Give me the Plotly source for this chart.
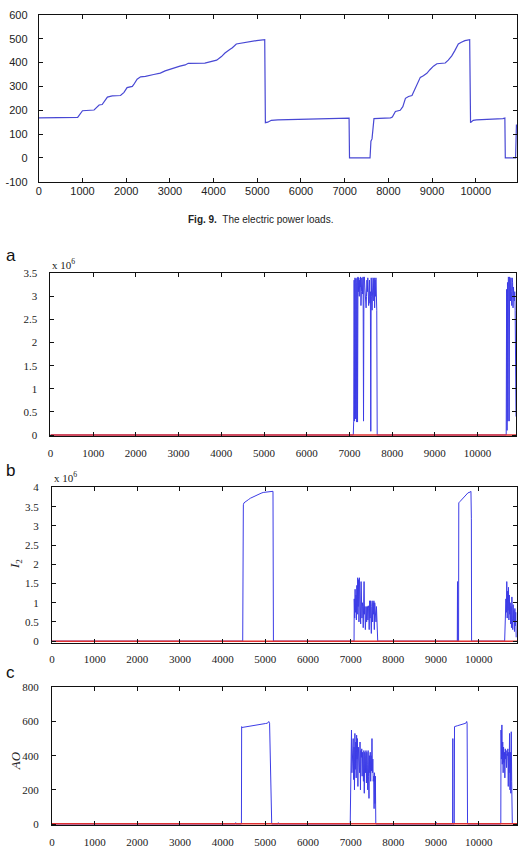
import plotly.graph_objects as go

# ---------------- data ----------------
# Fig. 9 electric power load
load_x = [0, 500, 890, 1000, 1265, 1380, 1450, 1570, 1680, 1870, 1950, 2020, 2140, 2170, 2250, 2330,
          2440, 2630, 2780, 2890, 3010, 3120, 3230, 3350, 3420, 3800, 3920, 4070, 4180, 4260, 4370,
          4430, 4520, 4640, 4790, 4980, 5170, 5185, 5240, 5320, 5470, 6000, 6760, 7100, 7110, 7580,
          7600, 7625, 7670, 8050, 8090, 8160, 8270, 8330, 8390, 8460, 8540, 8610, 8650, 8730, 8800,
          8880, 8950, 9030, 9110, 9300, 9370, 9450, 9520, 9600, 9670, 9750, 9860, 9880, 9940, 10015,
          10620, 10665, 10675, 10910, 10930]
load_y = [168, 169, 170, 198, 201, 222, 224, 255, 260, 262, 275, 295, 300, 307, 330, 340,
          342, 350, 356, 365, 373, 378, 385, 390, 397, 398, 402, 410, 425, 440, 455,
          462, 478, 482, 487, 492, 496, 148, 150, 158, 160, 162, 165, 167, 0, 0,
          70, 80, 165, 168, 172, 195, 200, 215, 250, 258, 262, 290, 300, 338, 345,
          355, 370, 385, 395, 398, 410, 428, 450, 478, 485, 492, 496, 148, 158, 160,
          165, 167, 0, 0, 140]

# (a) statistic, units of 1e6
a_x = [0, 7090, 7100, 7110, 7120, 7130, 7140, 7150, 7160, 7170, 7180, 7190, 7200, 7210, 7220, 7230,
       7240, 7250, 7260, 7270, 7280, 7290, 7300, 7310, 7320, 7330, 7340, 7350, 7360, 7370, 7380,
       7390, 7400, 7410, 7420, 7430, 7440, 7450, 7460, 7470, 7480, 7490, 7500, 7510, 7520, 7530,
       7540, 7550, 7560, 7570, 7580, 7590, 7600, 7610, 7620, 7630, 7640, 7650, 10670, 10680,
       10690, 10700, 10710, 10720, 10730, 10740, 10750, 10760, 10770, 10780, 10790, 10800, 10810,
       10820, 10830, 10840, 10850, 10860, 10870, 10880, 10890, 10900]
a_y = [0, 0, 0.3, 3.35, 0.3, 3.4, 0.35, 3.38, 3.3, 0.28, 3.4, 0.28, 3.42, 3.1, 3.4, 3.0,
       3.35, 3.2, 3.42, 2.8, 3.1, 3.4, 3.3, 3.05, 3.42, 0.3, 3.4, 3.42, 3.2, 2.9, 3.1,
       2.75, 3.0, 3.35, 3.1, 3.4, 2.9, 2.8, 3.0, 3.35, 2.85, 3.1, 0.08, 3.4, 3.0, 2.7,
       3.1, 3.4, 3.38, 2.9, 3.4, 2.75, 3.35, 3.0, 3.4, 2.9, 2.7, 0, 0, 3.15,
       0.1, 3.3, 0.3, 3.42, 3.4, 0.3, 3.42, 3.3, 2.9, 3.4, 3.1, 2.8, 3.4,
       3.3, 2.75, 3.2, 3.0, 2.9, 3.1, 2.7, 0.5, 0.4]

# (b) I2, units of 1e6
b_x = [0, 2000, 2005, 2010, 4470, 4475, 4480, 4485, 4500, 4550, 4600, 4650, 4700, 4750, 4800, 4850,
       4900, 4950, 5000, 5100, 5180, 5190, 7080, 7085, 7095, 7105, 7115, 7125, 7135, 7145, 7155,
       7165, 7175, 7185, 7195, 7205, 7215, 7225, 7235, 7245, 7255, 7265, 7275, 7285, 7295, 7305,
       7315, 7325, 7335, 7345, 7355, 7365, 7375, 7385, 7395, 7405, 7415, 7425, 7435, 7445, 7455,
       7465, 7475, 7485, 7495, 7505, 7515, 7525, 7535, 7545, 7555, 7565, 7575, 7585, 7595, 7605,
       7615, 7625, 7635, 9500, 9505, 9510, 9530, 9535, 9560, 9600, 9650, 9700, 9750, 9800, 9820,
       9830, 9835, 10610, 10620, 10630, 10640, 10650, 10660, 10670, 10680, 10690, 10700, 10710,
       10720, 10730, 10740, 10750, 10760, 10770, 10780, 10790, 10800, 10810, 10820, 10830, 10840,
       10850, 10860, 10870, 10880]
b_y = [0, 0, 0.03, 0, 0, 3.5, 2.6, 3.55, 3.6, 3.65, 3.68, 3.72, 3.75, 3.78, 3.8, 3.82,
       3.85, 3.87, 3.88, 3.9, 3.9, 0, 0, 1.1, 0.6, 1.35, 0.75, 1.2, 0.55, 1.45, 0.7,
       1.65, 0.9, 1.6, 0.5, 1.65, 0.8, 1.3, 0.45, 1.55, 0.85, 0.6, 1.0, 0.9, 0.35, 0.9,
       1.55, 0.7, 0.9, 0.3, 0.85, 0.9, 0.5, 0.88, 0.9, 0.55, 0.92, 0.85, 0.3, 1.05, 0.6,
       1.05, 0.8, 0.2, 0.9, 1.05, 0.5, 1.0, 0.7, 1.05, 0.3, 1.0, 0.8, 0.95, 0.5, 0.9,
       0.25, 0.1, 0, 0, 1.55, 0, 0, 3.6, 3.63, 3.68, 3.75, 3.8, 3.86, 3.88, 3.9,
       3.2, 0, 0, 0.7, 0.5, 1.1, 0.75, 1.55, 0.6, 1.3, 0.8, 1.4, 0.55,
       1.2, 0.7, 1.0, 0.45, 0.9, 0.35, 1.15, 0.6, 0.3, 0.95, 0.5, 0.8, 0.25,
       0.85, 0.4, 0.75, 0.1]

# (c) AO
c_x = [0, 2000, 2005, 2010, 4300, 4305, 4310, 4440, 4445, 4450, 4455, 4500, 4600, 4700, 4800, 4900,
       5000, 5050, 5080, 5100, 5150, 5300, 5305, 5310, 6990, 7000, 7010, 7020, 7030, 7040, 7050,
       7060, 7070, 7080, 7090, 7100, 7110, 7120, 7130, 7140, 7150, 7160, 7170, 7180, 7190, 7200,
       7210, 7220, 7230, 7240, 7250, 7260, 7270, 7280, 7290, 7300, 7310, 7320, 7330, 7340, 7350,
       7360, 7370, 7380, 7390, 7400, 7410, 7420, 7430, 7440, 7450, 7460, 7470, 7480, 7490, 7500,
       7510, 7520, 7530, 7540, 7550, 7560, 7570, 7580, 7590, 9000, 9005, 9010, 9390, 9395, 9400,
       9430, 9435, 9500, 9600, 9700, 9720, 9730, 9740, 10520, 10525, 10535, 10545, 10555, 10565,
       10575, 10585, 10595, 10605, 10615, 10625, 10635, 10645, 10655, 10665, 10675, 10685, 10695,
       10705, 10715, 10725, 10735, 10745, 10755, 10765, 10775, 10785, 10790]
c_y = [0, 0, 10, 0, 0, 8, 0, 0, 570, 430, 565, 567, 572, 575, 580, 585,
       588, 590, 600, 590, 0, 0, 8, 0, 0, 420, 350, 550, 300, 420, 380,
       500, 260, 450, 200, 530, 320, 480, 270, 520, 380, 500, 220, 450, 350, 420,
       300, 480, 200, 430, 390, 440, 280, 420, 360, 250, 430, 180, 420, 400, 300,
       430, 240, 420, 350, 200, 430, 280, 150, 400, 300, 420, 250, 400, 310, 500,
       300, 380, 250, 280, 90, 300, 120, 280, 0, 0, 10, 0, 0, 500, 0,
       0, 570, 575, 582, 590, 600, 590, 0, 0, 550, 380, 580, 350, 480,
       300, 450, 360, 420, 270, 440, 380, 430, 330, 410, 400, 440, 220,
       420, 300, 530, 200, 420, 180, 540, 250, 10, 0]

limit_x = [0, 10950]
limit_a = [0, 0]
limit_b = [0, 0]
limit_c = [2, 2]

x_ticks = [0, 1000, 2000, 3000, 4000, 5000, 6000, 7000, 8000, 9000, 10000]
x_ticktext = ["0", "1000", "2000", "3000", "4000", "5000", "6000", "7000", "8000", "9000", "10000"]
load_yticks = [-100, 0, 100, 200, 300, 400, 500, 600]
load_yticktext = ["-100", "0", "100", "200", "300", "400", "500", "600"]
a_yticks = [0, 0.5, 1, 1.5, 2, 2.5, 3, 3.5]
a_yticktext = ["0", "0.5", "1", "1.5", "2", "2.5", "3", "3.5"]
b_yticks = [0, 0.5, 1, 1.5, 2, 2.5, 3, 3.5, 4]
b_yticktext = ["0", "0.5", "1", "1.5", "2", "2.5", "3", "3.5", "4"]
c_yticks = [0, 200, 400, 600, 800]
c_yticktext = ["0", "200", "400", "600", "800"]

# ---------------- figure ----------------
W, H = 520, 858
BLUE = "#3c3ce6"
BLUE_TOP = "#4848d4"
RED = "#e03030"
SANS = "Liberation Sans, Arial, sans-serif"
SERIF = "Liberation Serif, Times New Roman, serif"

def px_x(p):
    return p / W

def px_y(p):
    return 1 - p / H

fig = go.Figure()
fig.add_trace(go.Scatter(x=load_x, y=load_y, mode="lines", line=dict(color=BLUE_TOP, width=1.2),
                         xaxis="x", yaxis="y", showlegend=False))
fig.add_trace(go.Scatter(x=a_x, y=a_y, mode="lines", line=dict(color=BLUE, width=1),
                         xaxis="x2", yaxis="y2", showlegend=False))
fig.add_trace(go.Scatter(x=limit_x, y=limit_a, mode="lines", line=dict(color=RED, width=1.5),
                         xaxis="x2", yaxis="y2", showlegend=False))
fig.add_trace(go.Scatter(x=b_x, y=b_y, mode="lines", line=dict(color=BLUE, width=1),
                         xaxis="x3", yaxis="y3", showlegend=False))
fig.add_trace(go.Scatter(x=limit_x, y=limit_b, mode="lines", line=dict(color=RED, width=1.5),
                         xaxis="x3", yaxis="y3", showlegend=False))
fig.add_trace(go.Scatter(x=c_x, y=c_y, mode="lines", line=dict(color=BLUE, width=1),
                         xaxis="x4", yaxis="y4", showlegend=False))
fig.add_trace(go.Scatter(x=limit_x, y=limit_c, mode="lines", line=dict(color=RED, width=1.5),
                         xaxis="x4", yaxis="y4", showlegend=False))

def axis(domain, rng, tickvals, ticktext, font, anchor, standoff):
    return dict(domain=domain, range=rng, tickvals=tickvals, ticktext=ticktext,
                tickfont=dict(family=font, size=11, color="#222"), anchor=anchor,
                showline=True, linecolor="#111", linewidth=1, mirror="ticks",
                ticks="inside", ticklen=4, tickcolor="#111", tickwidth=1,
                showgrid=False, zeroline=False, ticklabelstandoff=standoff)

fig.update_layout(
    width=W, height=H, margin=dict(l=0, r=0, t=0, b=0),
    paper_bgcolor="white", plot_bgcolor="white",
    xaxis=axis([px_x(36), px_x(517.3)], [0, 10950], x_ticks, x_ticktext, SANS, "y", -1),
    yaxis=axis([px_y(178.3), px_y(9)], [-100, 600], load_yticks, load_yticktext, SANS, "x", 8),
    xaxis2=axis([px_x(47.7), px_x(516)], [0, 10900], x_ticks, x_ticktext, SERIF, "y2", 6),
    yaxis2=axis([px_y(436.5), px_y(271)], [-0.03, 3.5], a_yticks, a_yticktext, SERIF, "x2", 10),
    xaxis3=axis([px_x(49.3), px_x(517)], [0, 10900], x_ticks, x_ticktext, SERIF, "y3", 6),
    yaxis3=axis([px_y(645.7), px_y(488.3)], [-0.04, 4], b_yticks, b_yticktext, SERIF, "x3", 10),
    xaxis4=axis([px_x(49.3), px_x(517)], [0, 10900], x_ticks, x_ticktext, SERIF, "y4", 6),
    yaxis4=axis([px_y(831), px_y(691)], [-8, 800], c_yticks, c_yticktext, SERIF, "x4", 10),
)

ann = []
ann.append(dict(text="<b>Fig. 9.</b>  The electric power loads.", x=px_x(259), y=px_y(217),
                xref="paper", yref="paper", showarrow=False, xanchor="center", yanchor="middle",
                font=dict(family=SANS, size=10, color="#222")))
for lab, yy in [("a", 253), ("b", 471), ("c", 676)]:
    ann.append(dict(text=lab, x=px_x(1), y=px_y(yy), xref="paper", yref="paper", showarrow=False,
                    xanchor="left", yanchor="middle", font=dict(family=SANS, size=17, color="#111")))
for xx, yy in [(47.5, 262), (49, 478)]:
    ann.append(dict(text="x 10<sup>6</sup>", x=px_x(xx), y=px_y(yy), xref="paper", yref="paper",
                    showarrow=False, xanchor="left", yanchor="middle",
                    font=dict(family=SERIF, size=11, color="#222")))
ann.append(dict(text="<i>I</i><sub>2</sub>", x=px_x(12), y=px_y(566), xref="paper", yref="paper",
                showarrow=False, textangle=-90, xanchor="center", yanchor="middle",
                font=dict(family=SERIF, size=13, color="#222")))
ann.append(dict(text="<i>AO</i>", x=px_x(12), y=px_y(765), xref="paper", yref="paper",
                showarrow=False, textangle=-90, xanchor="center", yanchor="middle",
                font=dict(family=SERIF, size=13, color="#222")))
fig.update_layout(annotations=ann)

fig.write_html("out.html")
